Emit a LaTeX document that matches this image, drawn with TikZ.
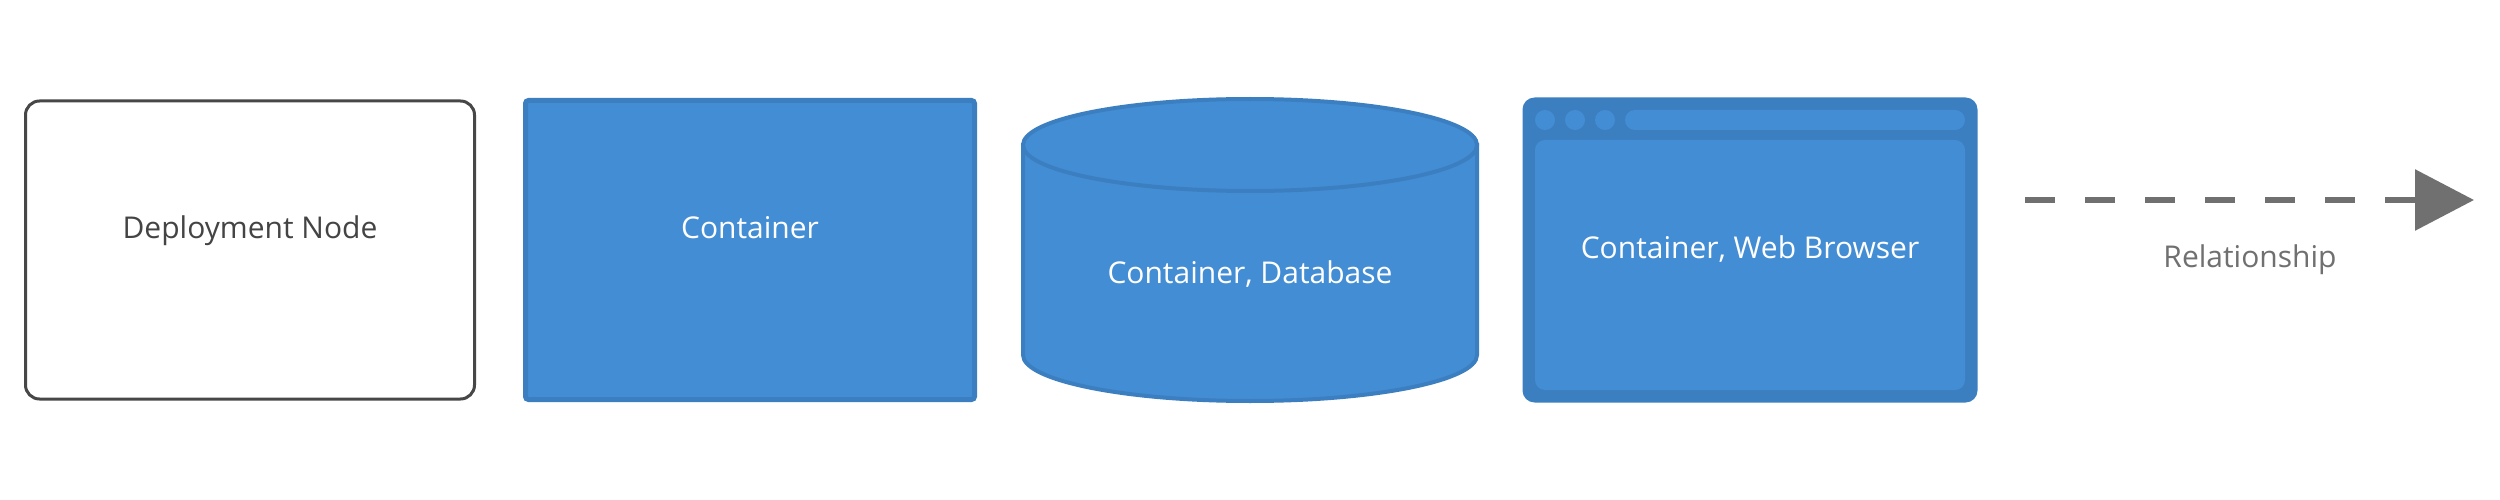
\documentclass[tikz,border=0pt]{standalone}
\usepackage{fontspec}
\setmainfont{Open Sans}
\usetikzlibrary{arrows.meta}
\definecolor{c4blue}{HTML}{438DD5}
\definecolor{c4edge}{HTML}{3C7FC0}
\definecolor{depline}{HTML}{474747}
\definecolor{deptext}{HTML}{444444}
\definecolor{relgray}{HTML}{707070}
\begin{document}
\begin{tikzpicture}[x=1pt,y=-1pt,
  lbl/.style={font=\fontsize{30}{36}\selectfont, anchor=base, inner sep=0pt},
  depbox/.style={draw=depline, line width=3pt, rounded corners=14pt, fill=white,
    minimum width=449pt, minimum height=298pt, inner sep=0pt},
  contbox/.style={draw=c4edge, fill=c4blue, line width=5pt, rounded corners=3pt,
    minimum width=449pt, minimum height=299pt, inner sep=0pt},
  cyl/.style={draw=c4edge, fill=c4blue, line width=4pt},
  browser/.style={fill=c4edge, rounded corners=12pt, minimum width=455pt,
    minimum height=305pt, inner sep=0pt},
  panel/.style={fill=c4blue, rounded corners=10pt, minimum width=430pt,
    minimum height=250pt, inner sep=0pt},
  dot/.style={fill=c4blue, circle, minimum size=20pt, inner sep=0pt},
  addrbar/.style={fill=c4blue, rounded corners=10pt, minimum width=340pt,
    minimum height=20pt, inner sep=0pt},
  relline/.style={draw=relgray, line width=6pt, dash pattern=on 30pt off 30pt,
    -{Triangle[length=59pt,width=60pt]}}
]
\fill[white] (0,0) rectangle (2500,500);
\useasboundingbox (0,0) rectangle (2500,500);

% Deployment node
\node[depbox] (dep) at (250,250) {};
\node[lbl, text=deptext] (deplbl) at (250,238) {Deployment Node};

% Container
\node[contbox] (cont) at (750,250) {};
\node[lbl, text=white] (contlbl) at (750,238) {Container};

% Container, Database (cylinder)
\draw[cyl] (1023,145) -- (1023,355)
  .. controls (1023,380.4) and (1124.6,401) .. (1250,401)
  .. controls (1375.4,401) and (1477,380.4) .. (1477,355)
  -- (1477,145) -- cycle;
\draw[cyl] (1250,145) ellipse[x radius=227, y radius=46];
\node[lbl, text=white] (dblbl) at (1250,283) {Container, Database};

% Container, Web Browser
\node[browser] (web) at (1750,250) {};
\node[panel] (webpanel) at (1750,265) {};
\node[dot] (dot1) at (1545,120) {};
\node[dot] (dot2) at (1575,120) {};
\node[dot] (dot3) at (1605,120) {};
\node[addrbar] (addr) at (1795,120) {};
\node[lbl, text=white] (weblbl) at (1750,258) {Container, Web Browser};

% Relationship
\coordinate (relstart) at (2025,200);
\coordinate (relend) at (2474,200);
\draw[relline] (relstart) -- (relend);
\node[lbl, text=relgray] (rellbl) at (2250,267) {Relationship};
\end{tikzpicture}
\end{document}
